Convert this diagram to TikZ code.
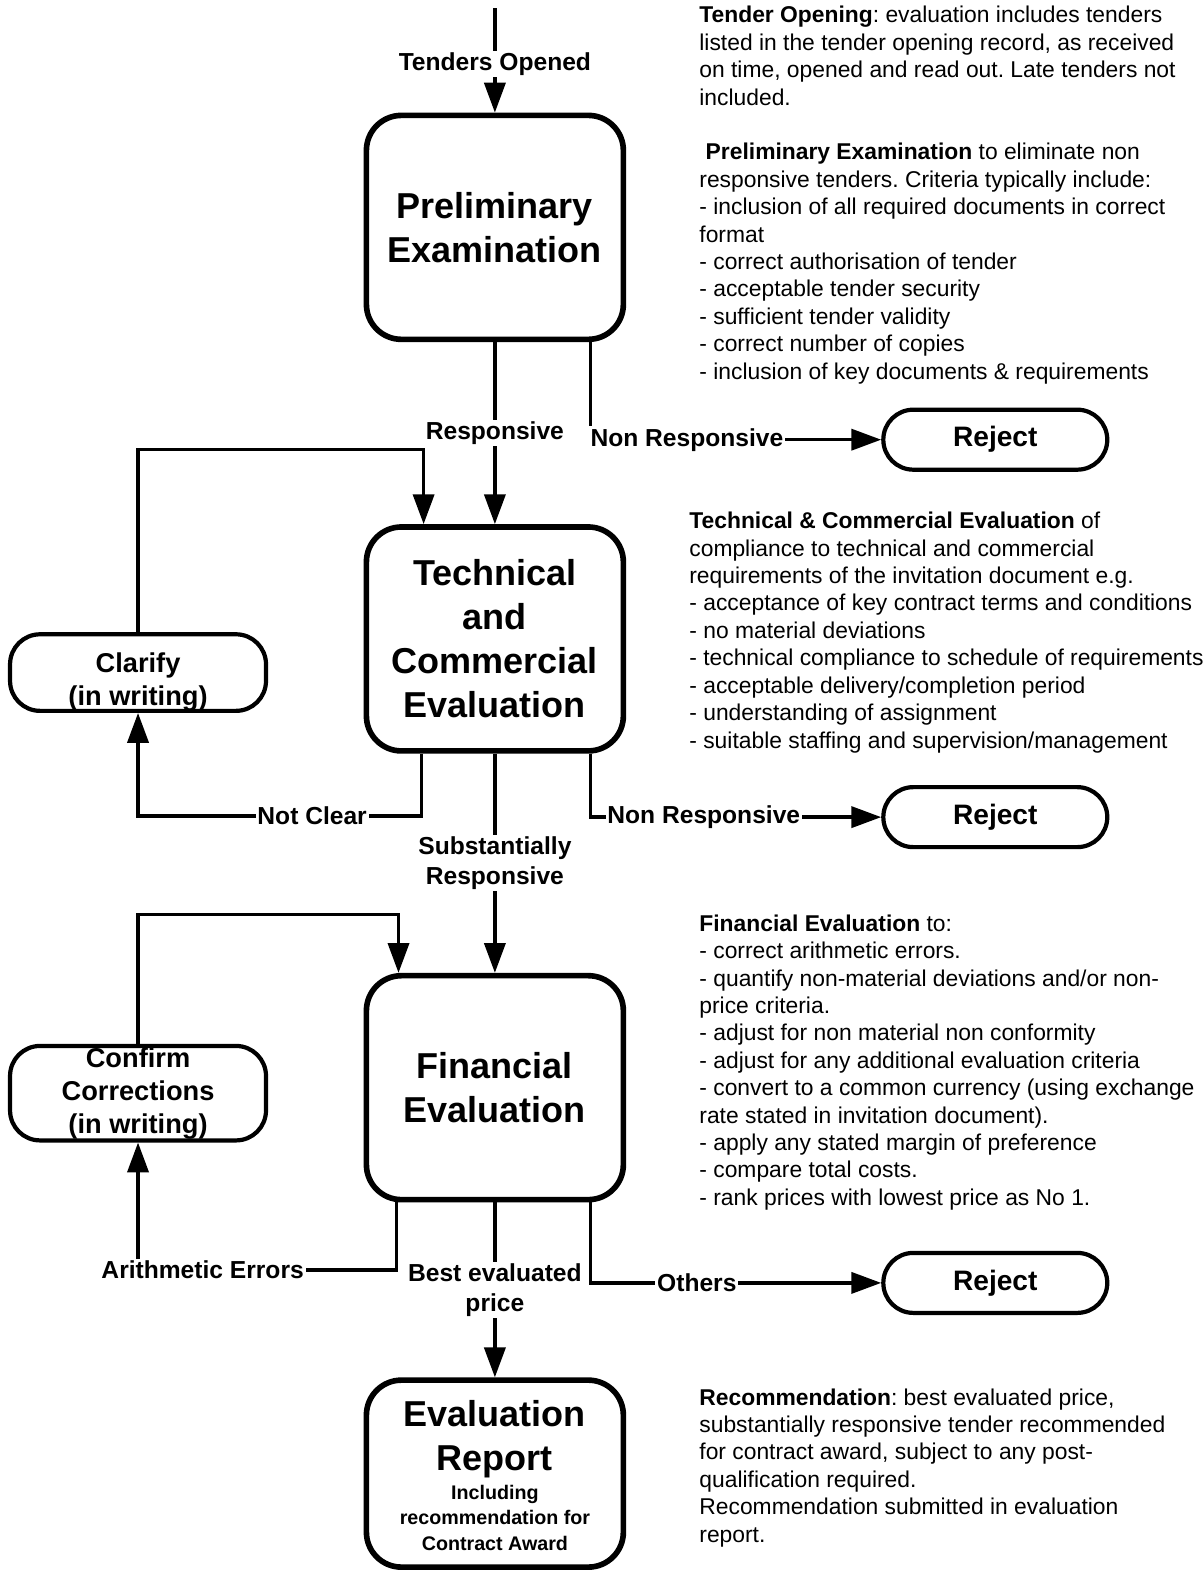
\documentclass[tikz,border=0pt]{standalone}
\usepackage{fontspec}
\setmainfont{Liberation Sans}
\frenchspacing
\usetikzlibrary{arrows.meta,positioning}

\begin{document}
\begin{tikzpicture}[x=0.02008cm,y=-0.02008cm,->,
  >={Triangle[length=17pt,width=12pt]},line width=2pt,
  main node/.style={draw,line width=3.2pt,rounded corners=0.7cm,
  minimum width=5.14cm,minimum height=4.48cm,align=center,
  font=\fontsize{20.5}{25}\selectfont\bfseries},
  side node/.style={draw,line width=2.4pt,rounded corners=0.6cm,
  minimum width=5.12cm,inner sep=0pt,align=center,
  font=\fontsize{15.5}{18.8}\selectfont\bfseries},
  reject node/.style={draw,line width=2.4pt,rounded corners=0.6cm,
  minimum width=4.48cm,minimum height=1.2cm,
  font=\fontsize{16}{19}\selectfont\bfseries},
  lbl/.style={fill=white,inner sep=1pt,align=center,
  font=\fontsize{14}{17}\selectfont\bfseries},
  note/.style={anchor=north west,inner sep=0pt,align=left,
  font=\fontsize{13}{15.6}\selectfont\frenchspacing}]

  \useasboundingbox (0,0) rectangle (1198,1568);

  \node[main node] (prelim) at (493,226.5) {Preliminary\\Examination};
  \node[main node] (tech) at (493,636.5) {Technical\\and\\Commercial\\Evaluation};
  \node[main node] (fin) at (493,1083.5) {Financial\\Evaluation};
  \node[main node,minimum height=3.74cm] (report) at (493,1468)
    {\rule{0pt}{17pt}Evaluation\\Report\\[-8.6pt]{\fontsize{11.2}{14}\selectfont Including}\\[-10.5pt]
     {\fontsize{11.2}{14}\selectfont recommendation for}\\[-10.5pt]
     {\fontsize{11.2}{14}\selectfont Contract Award}};

  \node[side node,minimum height=1.53cm] (clarify) at (137.5,670)
    {\rule{0pt}{21.5pt}Clarify\\(in writing)};
  \node[side node,minimum height=1.89cm] (confirm) at (137.5,1089)
    {Confirm\\Corrections\\(in writing)};

  \node[reject node] (rej1) at (991.5,438) {Reject};
  \node[reject node] (rej2) at (991.5,814) {Reject};
  \node[reject node] (rej3) at (991.5,1278) {Reject};

  \coordinate (start) at (493,8);
  \coordinate (c1) at (422,448);
  \coordinate (c2) at (420,813);
  \coordinate (c3) at (397,911);
  \coordinate (c4) at (395,1265);

  % main line, top to bottom
  \draw (start) -- node[lbl,yshift=-2pt] {Tenders Opened} (prelim);
  \draw (prelim) -- node[lbl] {Responsive} (tech);
  \draw (tech) -- node[lbl] {Substantially\\Responsive} (fin);
  \draw (fin) -- node[lbl] {Best evaluated\\price} (report);

  % rejections
  \draw ([xshift=1.91cm]prelim.south) |- node[lbl,pos=.666] {Non Responsive} (rej1);
  \draw ([xshift=1.91cm]tech.south) |- node[lbl,pos=.695] {Non Responsive} (rej2);
  \draw ([xshift=1.91cm]fin.south) |- node[lbl,pos=.683] {Others} (rej3);

  % loops on the left
  \draw (c2 |- tech.south) -- (c2) -| node[lbl,pos=.193] {Not Clear} (clarify);
  \draw (clarify) |- (c1) -- (c1 |- tech.north);
  \draw (c4 |- fin.south) -- (c4) -| node[lbl,pos=.375] {Arithmetic Errors} (confirm);
  \draw (confirm) |- (c3) -- (c3 |- fin.north);

  % notes on the right
  \node[note] (n1) at (695,4.5) {\textbf{Tender Opening}: evaluation includes tenders\\
    listed in the tender opening record, as received\\
    on time, opened and read out. Late tenders not\\
    included.\\[15.6pt]
    \hspace*{3.6pt}\textbf{Preliminary Examination} to eliminate non\\
    responsive tenders. Criteria typically include:\\
    - inclusion of all required documents in correct\\
    format\\
    - correct authorisation of tender\\
    - acceptable tender security\\
    - sufficient tender validity\\
    - correct number of copies\\
    - inclusion of key documents \& requirements};
  \node[note] (n2) at (685,508.5) {\textbf{Technical \& Commercial Evaluation} of\\
    compliance to technical and commercial\\
    requirements of the invitation document e.g.\\
    - acceptance of key contract terms and conditions\\
    - no material deviations\\
    - technical compliance to schedule of requirements\\
    - acceptable delivery/completion period\\
    - understanding of assignment\\
    - suitable staffing and supervision/management};
  \node[note] (n3) at (695,909.5) {\textbf{Financial Evaluation} to:\\
    - correct arithmetic errors.\\
    - quantify non-material deviations and/or non-\\
    price criteria.\\
    - adjust for non material non conformity\\
    - adjust for any additional evaluation criteria\\
    - convert to a common currency (using exchange\\
    rate stated in invitation document).\\
    - apply any stated margin of preference\\
    - compare total costs.\\
    - rank prices with lowest price as No 1.};
  \node[note] (n4) at (695,1381.5) {\textbf{Recommendation}: best evaluated price,\\
    substantially responsive tender recommended\\
    for contract award, subject to any post-\\
    qualification required.\\
    Recommendation submitted in evaluation\\
    report.};

\end{tikzpicture}
\end{document}
